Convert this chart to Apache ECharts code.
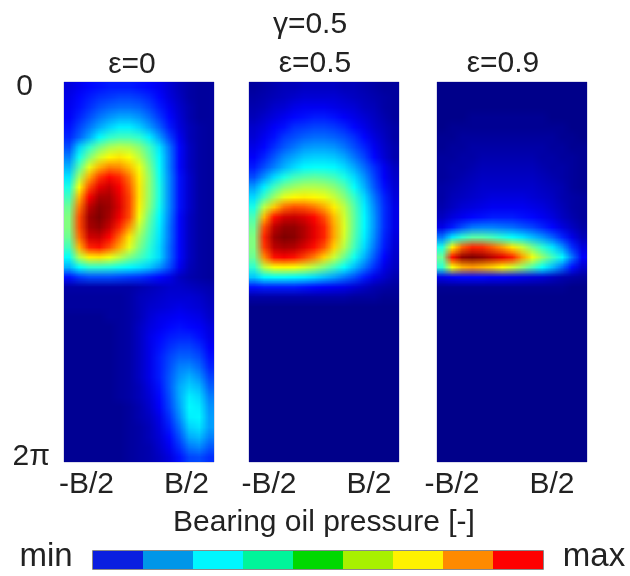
<!DOCTYPE html>
<html><head><meta charset="utf-8">
<script src="https://cdn.jsdelivr.net/npm/echarts@6/dist/echarts.min.js"></script>
<style>
html,body{margin:0;padding:0;background:#fff}
#wrap{position:relative;width:630px;height:576px}
#c{position:absolute;left:0;top:0;width:630px;height:576px}
.hm{position:absolute;top:82px;width:150px;height:380px}
</style>
</head><body><div id="wrap"><div id="c"></div>
<div class="hm" id="h0" style="left:64px"></div>
<div class="hm" id="h1" style="left:249px"></div>
<div class="hm" id="h2" style="left:437px"></div>
</div>
<script>
// ---- text / tick labels ----
const topTitle = 'γ=0.5';
const panelTitles = ['ε=0', 'ε=0.5', 'ε=0.9'];
const xTickLabels = ['-B/2', 'B/2'];
const yTickLabels = ['0', '2π'];
const xAxisTitle = 'Bearing oil pressure [-]';
const legendEnds = ['min', 'max'];

// ---- pressure fields (rows: angle 0 -> 2π, cols: -B/2 -> B/2), 0 = min, 100 = max ----
const pressureEps0 = [
[9,11,13,14,15,15,15,14,13,11,8,5,3,2,2],
[10,13,15,17,18,19,19,18,16,13,9,6,3,2,2],
[11,14,17,20,22,23,23,22,19,15,11,7,4,2,2],
[12,16,20,24,27,29,29,27,23,18,13,8,4,2,2],
[14,19,24,29,33,36,36,33,28,22,15,9,5,3,2],
[16,22,29,37,42,44,44,42,36,28,19,11,5,3,2],
[20,33,42,49,54,56,55,51,44,35,24,13,6,3,2],
[25,39,50,58,63,65,62,56,47,37,25,13,6,3,2],
[30,46,60,70,75,74,69,61,50,38,25,13,6,3,2],
[35,54,71,82,87,84,76,64,52,39,26,14,7,3,2],
[40,62,80,90,93,88,79,65,52,40,26,14,7,3,2],
[44,70,88,96,96,90,81,65,52,40,26,14,7,3,2],
[48,76,94,99,97,91,81,64,51,39,26,14,7,3,2],
[50,80,97,100,96,89,80,61,48,37,25,13,6,3,2],
[50,80,96,98,93,84,73,57,46,36,24,13,6,3,2],
[48,77,92,93,87,77,65,53,44,35,24,13,6,3,2],
[44,70,84,86,80,71,60,50,42,34,23,13,6,3,2],
[38,55,64,65,61,56,50,45,40,34,23,13,6,3,2],
[30,38,42,42,41,39,37,35,32,27,20,11,5,3,2],
[14,18,20,20,20,19,18,17,15,13,10,6,4,3,2],
[3,3,3,3,3,3,3,4,5,6,7,7,6,5,4],
[2,2,2,2,2,2,3,5,6,7,8,8,8,7,5],
[2,2,2,2,2,2,3,5,7,8,9,10,9,8,6],
[1,1,1,1,2,2,3,5,8,10,11,12,11,10,7],
[1,1,1,1,1,2,3,6,9,11,13,14,13,12,9],
[1,1,1,1,1,2,3,6,10,13,15,16,16,14,10],
[1,1,1,1,1,2,3,6,10,14,17,19,19,17,12],
[1,1,1,1,1,2,3,6,10,15,19,22,22,20,14],
[1,1,1,1,1,2,3,6,10,15,20,25,26,23,16],
[1,1,1,1,1,2,3,6,10,15,21,27,30,27,19],
[1,1,1,1,1,2,3,5,9,14,21,29,33,31,22],
[1,1,1,1,1,2,3,5,8,13,20,29,36,34,25],
[1,1,1,1,1,1,2,4,7,12,19,28,37,36,27],
[1,1,1,1,1,1,2,4,6,10,17,26,36,37,28],
[1,1,1,1,1,1,2,3,5,9,15,23,33,35,28],
[1,1,1,1,1,1,2,3,5,8,13,20,29,31,25],
[1,1,1,1,1,1,2,3,4,7,11,17,24,26,21],
[1,1,1,1,1,1,2,3,4,6,9,14,19,20,17]
];
const pressureEps05 = [
[2,3,4,5,5,6,6,6,6,5,5,4,3,2,2],
[3,4,5,6,7,8,8,8,8,7,6,5,4,3,2],
[4,5,7,8,10,11,11,11,10,9,8,6,5,3,2],
[5,7,9,11,13,14,15,15,14,12,10,8,6,4,2],
[7,9,12,14,17,18,19,19,18,16,13,10,7,5,3],
[8,11,14,18,20,22,23,23,22,20,17,13,9,6,3],
[10,13,17,21,24,27,28,28,27,24,20,16,11,7,4],
[12,16,21,26,29,32,33,33,32,29,24,19,13,8,4],
[15,20,25,30,34,37,38,38,37,34,29,23,17,11,6],
[20,27,34,40,44,46,47,46,44,40,34,27,19,12,7],
[28,36,44,50,53,55,55,54,51,46,38,30,21,14,8],
[34,44,53,60,63,64,63,61,57,51,43,34,24,16,9],
[40,56,68,77,80,79,76,71,64,56,46,36,26,17,10],
[45,70,86,92,93,91,87,80,69,58,47,37,27,17,10],
[48,80,94,98,98,95,90,84,71,59,47,37,27,17,10],
[50,84,97,100,99,95,90,84,71,58,46,36,26,16,9],
[50,82,94,96,95,91,86,79,67,55,44,34,24,15,8],
[48,74,86,88,86,81,75,67,57,48,39,30,21,13,7],
[42,56,62,63,62,59,55,50,44,38,31,24,17,10,6],
[32,37,38,38,37,36,34,31,28,24,20,15,10,7,4],
[14,15,15,15,15,14,13,12,11,10,8,6,4,3,2],
[3,3,3,3,3,3,3,3,3,3,2,2,2,1,1],
[0,0,0,0,0,0,0,0,0,0,0,0,0,0,0],
[0,0,0,0,0,0,0,0,0,0,0,0,0,0,0],
[0,0,0,0,0,0,0,0,0,0,0,0,0,0,0],
[0,0,0,0,0,0,0,0,0,0,0,0,0,0,0],
[0,0,0,0,0,0,0,0,0,0,0,0,0,0,0],
[0,0,0,0,0,0,0,0,0,0,0,0,0,0,0],
[0,0,0,0,0,0,0,0,0,0,0,0,0,0,0],
[0,0,0,0,0,0,0,0,0,0,0,0,0,0,0],
[0,0,0,0,0,0,0,0,0,0,0,0,0,0,0],
[0,0,0,0,0,0,0,0,0,0,0,0,0,0,0],
[0,0,0,0,0,0,0,0,0,0,0,0,0,0,0],
[0,0,0,0,0,0,0,0,0,0,0,0,0,0,0],
[0,0,0,0,0,0,0,0,0,0,0,0,0,0,0],
[0,0,0,0,0,0,0,0,0,0,0,0,0,0,0],
[0,0,0,0,0,0,0,0,0,0,0,0,0,0,0],
[0,0,0,0,0,0,0,0,0,0,0,0,0,0,0]
];
const pressureEps09 = [
[0,0,0,0,0,0,0,0,0,0,0,0,0,0,0],
[0,0,0,0,0,0,0,0,0,0,0,0,0,0,0],
[0,0,0,0,0,0,0,0,0,0,0,0,0,0,0],
[0,0,0,1,1,1,1,1,1,1,1,0,0,0,0],
[0,1,1,1,1,1,1,1,1,1,1,1,1,0,0],
[1,1,2,2,2,2,2,2,2,2,2,2,1,1,0],
[1,2,2,3,3,3,3,3,3,3,3,2,2,1,1],
[2,2,3,3,4,4,4,4,4,4,3,3,2,2,1],
[2,3,3,4,5,5,5,5,5,5,4,3,3,2,1],
[2,3,4,5,6,6,6,6,6,6,5,4,3,2,1],
[3,4,5,6,7,7,7,7,7,7,6,5,4,2,1],
[3,5,6,7,8,9,9,9,9,8,7,6,4,3,2],
[4,6,8,9,10,11,11,11,11,10,9,7,5,3,2],
[6,9,11,13,14,15,15,15,14,13,11,9,6,4,2],
[10,15,20,24,25,25,24,23,21,19,16,13,9,6,3],
[24,35,42,46,46,44,41,38,35,31,27,22,16,10,5],
[40,64,78,84,83,78,72,65,57,49,42,35,27,17,9],
[48,86,98,100,98,94,90,84,72,61,52,44,37,24,12],
[42,62,70,72,70,67,63,58,52,45,38,31,23,14,7],
[10,12,13,13,13,12,12,11,10,9,8,6,4,3,2],
[1,1,1,1,1,1,1,1,1,1,1,1,1,0,0],
[0,0,0,0,0,0,0,0,0,0,0,0,0,0,0],
[0,0,0,0,0,0,0,0,0,0,0,0,0,0,0],
[0,0,0,0,0,0,0,0,0,0,0,0,0,0,0],
[0,0,0,0,0,0,0,0,0,0,0,0,0,0,0],
[0,0,0,0,0,0,0,0,0,0,0,0,0,0,0],
[0,0,0,0,0,0,0,0,0,0,0,0,0,0,0],
[0,0,0,0,0,0,0,0,0,0,0,0,0,0,0],
[0,0,0,0,0,0,0,0,0,0,0,0,0,0,0],
[0,0,0,0,0,0,0,0,0,0,0,0,0,0,0],
[0,0,0,0,0,0,0,0,0,0,0,0,0,0,0],
[0,0,0,0,0,0,0,0,0,0,0,0,0,0,0],
[0,0,0,0,0,0,0,0,0,0,0,0,0,0,0],
[0,0,0,0,0,0,0,0,0,0,0,0,0,0,0],
[0,0,0,0,0,0,0,0,0,0,0,0,0,0,0],
[0,0,0,0,0,0,0,0,0,0,0,0,0,0,0],
[0,0,0,0,0,0,0,0,0,0,0,0,0,0,0],
[0,0,0,0,0,0,0,0,0,0,0,0,0,0,0]
];
const legendSteps = [0, 1, 2, 3, 4, 5, 6, 7, 8];

// ---- build options ----
const panels = [pressureEps0, pressureEps05, pressureEps09];
const FONT = "'Liberation Sans', Arial, sans-serif";
const TXT = '#222';
const nRows = pressureEps0.length;
const xCats = pressureEps0[0].map((_, i) => String(i));
const yCats = pressureEps0.map((_, i) => String(i));
const jet = ['#00008a','#0000ff','#0080ff','#00ffff','#80ff80','#ffff00','#ff8000','#ff0000','#800000'];
const legendColors = ['#0a1ee0','#0096e8','#00f6ff','#00f59a','#00d800','#a8f000','#fff200','#ff8a00','#ff0000'];

const gridLefts = [64, 249, 437];
const xLabelCols = [[2, 12], [2, 12], [1, 11]];
const xLabelPad = [5, 10, 0];

// main chart: axes, labels, titles, legend
const mainOption = {
  animation: false,
  backgroundColor: '#ffffff',
  grid: gridLefts.map(l => ({left: l, top: 82, width: 150, height: 380, show: true,
    backgroundColor: '#00008a', borderColor: '#b8b8d8', borderWidth: 1})),
  xAxis: panels.map((p, i) => ({
    type: 'category', gridIndex: i, data: xCats,
    axisLine: {show: false}, axisTick: {show: false}, splitLine: {show: false},
    axisLabel: {
      interval: 0, margin: 8, fontSize: 30, color: TXT, fontFamily: FONT,
      padding: [0, xLabelPad[i], 0, 0],
      formatter: (v, idx) => idx === xLabelCols[i][0] ? xTickLabels[0] : (idx === xLabelCols[i][1] ? xTickLabels[1] : '')
    },
    name: i === 1 ? xAxisTitle : '', nameLocation: 'middle', nameGap: 46,
    nameTextStyle: {fontSize: 30, color: TXT, fontFamily: FONT}
  })),
  yAxis: panels.map((p, i) => ({
    type: 'category', gridIndex: i, data: yCats, inverse: true,
    axisLine: {show: false}, axisTick: {show: false}, splitLine: {show: false},
    axisLabel: {
      show: i === 0, interval: 0, margin: 14, fontSize: 30, color: TXT, fontFamily: FONT, align: 'right',
      formatter: (v, idx) => idx === 0 ? '{z|' + yTickLabels[0] + '}' : (idx === nRows - 1 ? yTickLabels[1] : ''),
      rich: {z: {fontSize: 30, color: TXT, fontFamily: FONT, padding: [0, 17, 0, 0]}}
    }
  })),
  visualMap: [
    {type: 'piecewise', seriesIndex: [], orient: 'horizontal', selectedMode: false, hoverLink: false,
     showLabel: false, itemSymbol: 'rect', itemWidth: 50, itemHeight: 18, itemGap: 0,
     padding: 0, left: 93, top: 551,
     pieces: legendSteps.map((s, i) => ({min: s, max: s + 1, color: legendColors[i]}))}
  ],
  series: [],
  graphic: [
    {type: 'text', x: 310, y: 25, style: {text: topTitle, font: '30px ' + FONT, fill: TXT, align: 'center', verticalAlign: 'middle'}},
    {type: 'text', x: 132, y: 65, style: {text: panelTitles[0], font: '30px ' + FONT, fill: TXT, align: 'center', verticalAlign: 'middle'}},
    {type: 'text', x: 315, y: 64, style: {text: panelTitles[1], font: '30px ' + FONT, fill: TXT, align: 'center', verticalAlign: 'middle'}},
    {type: 'text', x: 503, y: 64, style: {text: panelTitles[2], font: '30px ' + FONT, fill: TXT, align: 'center', verticalAlign: 'middle'}},
    {type: 'text', x: 46, y: 557, style: {text: legendEnds[0], font: '33px ' + FONT, fill: TXT, align: 'center', verticalAlign: 'middle'}},
    {type: 'text', x: 594, y: 557, style: {text: legendEnds[1], font: '33px ' + FONT, fill: TXT, align: 'center', verticalAlign: 'middle'}},
    {type: 'rect', shape: {x: 92.5, y: 550.5, width: 451, height: 19}, style: {fill: 'none', stroke: '#8a8a8a', lineWidth: 1}, z: 100}
  ]
};
echarts.init(document.getElementById('c')).setOption(mainOption);

// heatmap panels: one grid cell per canvas pixel, upscaled smoothly by the browser
panels.forEach((p, i) => {
  const hm = echarts.init(document.getElementById('h' + i), null, {devicePixelRatio: 0.1});
  hm.setOption({
    animation: false,
    grid: {left: 0, top: 0, right: 0, bottom: 0},
    xAxis: {type: 'category', data: xCats, show: false},
    yAxis: {type: 'category', data: yCats, inverse: true, show: false},
    visualMap: {type: 'continuous', min: 0, max: 100, show: false, inRange: {color: jet}},
    series: [{
      type: 'heatmap', progressive: 0, emphasis: {disabled: true}, itemStyle: {borderWidth: 0},
      data: p.flatMap((row, r) => row.map((v, c) => [c, r, v]))
    }]
  });
});
</script></body></html>
